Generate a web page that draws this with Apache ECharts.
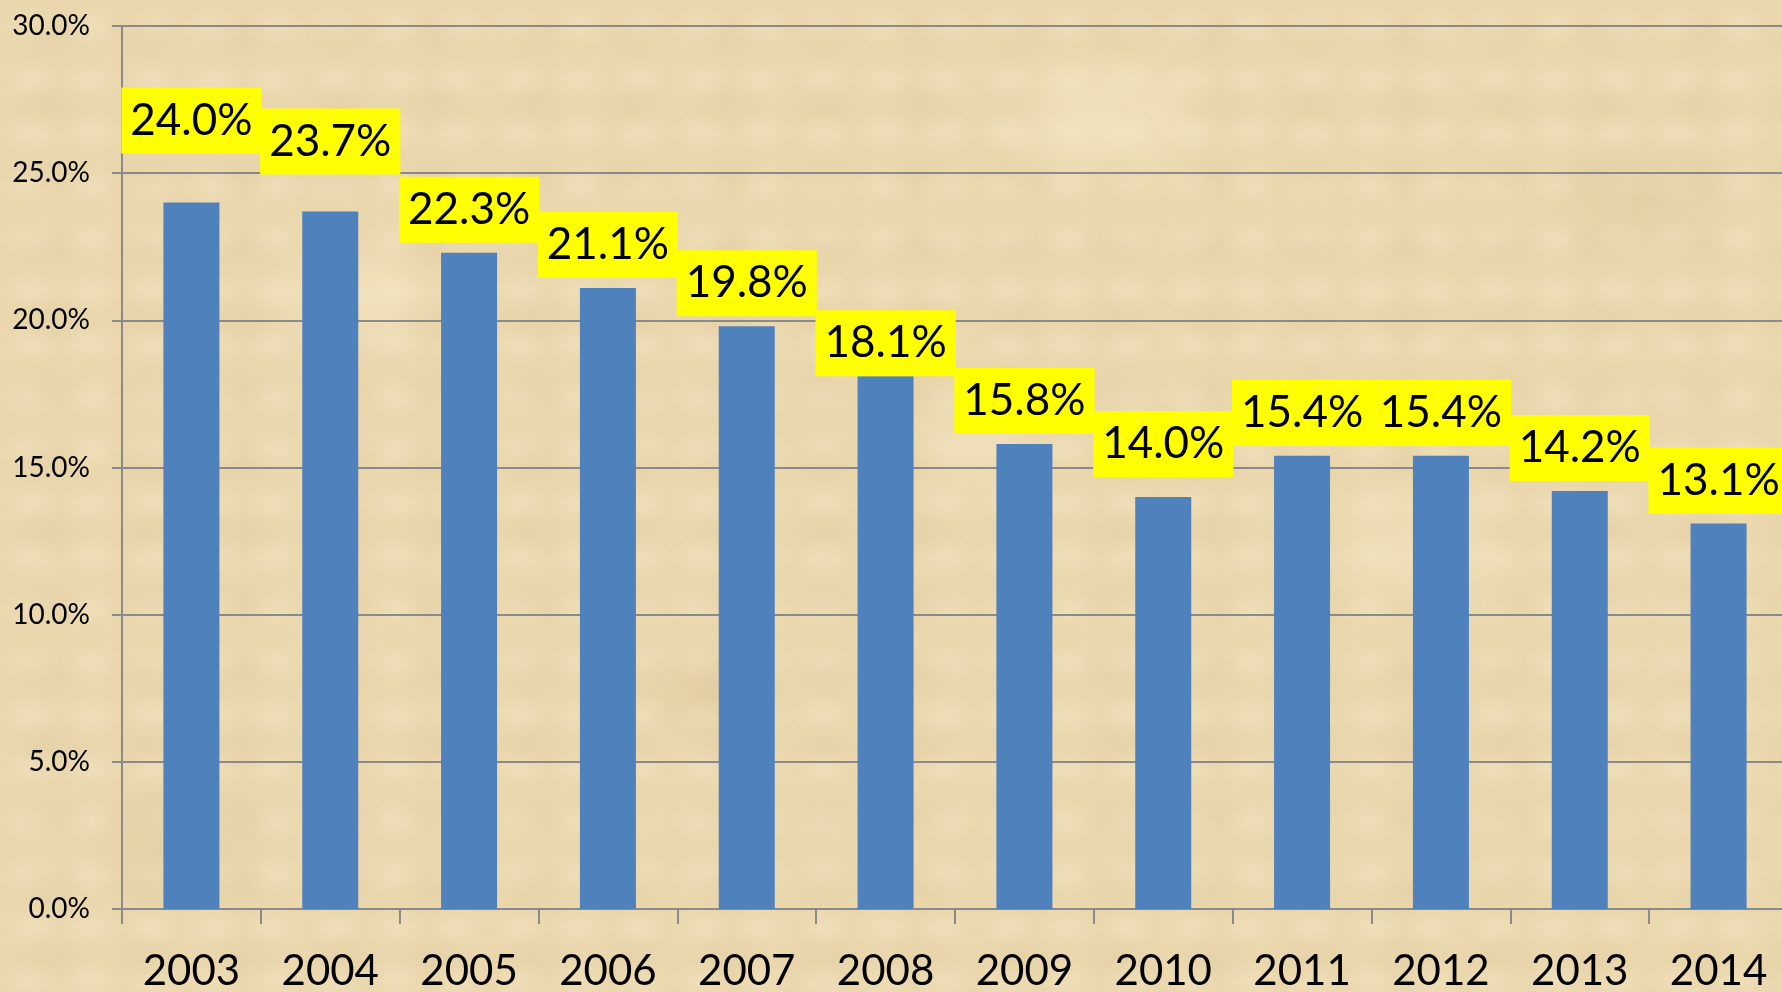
<!DOCTYPE html>
<html>
<head>
<meta charset="utf-8">
<title>Bar chart</title>
<script src="https://cdn.jsdelivr.net/npm/echarts@6/dist/echarts.min.js"></script>
<style>
	html, body {
		margin: 0;
		padding: 0;
		width: 1782px;
		height: 992px;
		overflow: hidden;
	}

	/* parchment look, approximated with soft blotches */
	body {
		background-color: #ead7ad;
		background-image:
			radial-gradient(ellipse 140px 90px at 20% 30%, rgba(250, 236, 205, 0.55), transparent 70%),
			radial-gradient(ellipse 180px 110px at 62% 12%, rgba(250, 238, 208, 0.5), transparent 70%),
			radial-gradient(ellipse 160px 120px at 80% 55%, rgba(248, 234, 200, 0.5), transparent 70%),
			radial-gradient(ellipse 120px 80px at 40% 70%, rgba(214, 190, 145, 0.35), transparent 70%),
			radial-gradient(ellipse 150px 100px at 10% 85%, rgba(216, 194, 150, 0.35), transparent 70%),
			radial-gradient(ellipse 170px 90px at 92% 20%, rgba(214, 192, 148, 0.3), transparent 70%),
			radial-gradient(ellipse 130px 90px at 55% 45%, rgba(246, 232, 198, 0.45), transparent 70%),
			radial-gradient(ellipse 60px 40px, rgba(220, 198, 155, 0.25), transparent 70%),
			radial-gradient(ellipse 45px 30px, rgba(250, 238, 210, 0.3), transparent 70%);
		background-size: auto, auto, auto, auto, auto, auto, auto, 97px 71px, 61px 53px;
	}

	/* a bit wider than the window: the plot runs past the right edge */
	.chart {
		width: 1800px;
		height: 992px;
	}
</style>
</head>
<body>
<div id="chart" class="chart"></div>
<script>
	// 年份
	const years = ['2003', '2004', '2005', '2006', '2007', '2008', '2009', '2010', '2011', '2012', '2013', '2014'];
	// 百分比数值
	const shares = [24.0, 23.7, 22.3, 21.1, 19.8, 18.1, 15.8, 14.0, 15.4, 15.4, 14.2, 13.1];
	// y 轴刻度
	const yMin = 0;
	const yMax = 30;
	const yStep = 5;

	// some labels sit higher/lower than the default gap
	const labelLift = { 0: 49, 1: 37, 5: 0, 7: 20 };

	const fontName = 'Lato, "Open Sans", sans-serif';
	const lineColor = '#8a8a8a';

	const chart = echarts.init(document.getElementById('chart'));

	const barData = shares.map((v, i) => {
		const item = { value: v };
		if (labelLift[i] !== undefined) {
			item.label = { distance: labelLift[i] };
		}
		return item;
	});

	const option = {
		backgroundColor: 'transparent',
		animation: false,
		grid: {
			left: 122,
			top: 26,
			width: 1666,
			height: 884,
		},
		xAxis: {
			type: 'category',
			data: years,
			boundaryGap: true,
			axisLine: {
				show: true,
				lineStyle: { color: lineColor, width: 2 },
			},
			axisTick: {
				show: true,
				length: 15,
				lineStyle: { color: lineColor, width: 2 },
			},
			axisLabel: {
				color: '#000',
				fontFamily: fontName,
				fontSize: 42,
				margin: 41,
			},
		},
		yAxis: {
			type: 'value',
			min: yMin,
			max: yMax,
			interval: yStep,
			axisLine: {
				show: true,
				lineStyle: { color: lineColor, width: 2 },
			},
			axisTick: {
				show: true,
				length: 10,
				lineStyle: { color: lineColor, width: 2 },
			},
			axisLabel: {
				color: '#000',
				fontFamily: fontName,
				fontSize: 28,
				margin: 32,
				formatter: (v) => v.toFixed(1) + '%',
			},
			splitLine: {
				show: true,
				lineStyle: { color: lineColor, width: 2 },
			},
		},
		series: [
			{
				type: 'bar',
				data: barData,
				barWidth: 56,
				itemStyle: {
					color: '#4f81bd',
				},
				label: {
					show: true,
					position: 'top',
					distance: 10,
					color: '#000',
					fontFamily: fontName,
					fontSize: 44,
					lineHeight: 46,
					backgroundColor: '#ffff00',
					padding: [10, 9, 10, 9],
					formatter: (p) => p.value.toFixed(1) + '%',
				},
			},
		],
	};

	chart.setOption(option);
</script>
</body>
</html>
